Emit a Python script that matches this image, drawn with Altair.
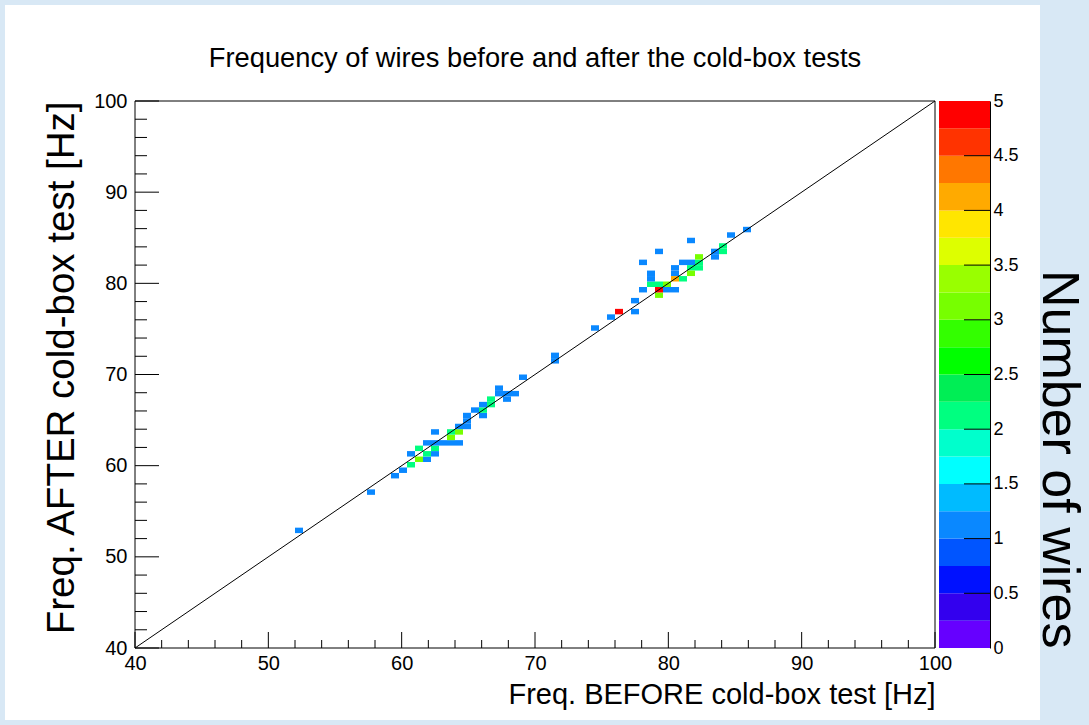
import altair as alt
import pandas as pd

# ---------------- data ----------------
# lower bin edge of each filled cell, in Hz (bin width 0.6 Hz in both axes)
freq_before = [52.0, 57.4, 59.2, 59.8, 60.4, 60.4, 61.0, 61.0, 61.6, 61.6,
               62.2, 62.2, 61.6, 62.2, 62.8, 63.4, 64.0, 62.2, 63.4, 63.4,
               64.0, 64.0, 64.6, 64.6, 64.6, 65.8, 65.2, 65.8, 65.8, 66.4,
               66.4, 67.6, 67.0, 67.6, 68.2, 67.0, 68.8, 71.2, 71.2, 74.2,
               75.4, 76.0, 77.2, 77.2, 77.8, 78.4, 79.0, 79.6, 79.0, 79.0,
               79.6, 80.2, 78.4, 78.4, 80.2, 80.8, 80.2, 80.2, 80.8, 81.4,
               81.4, 82.0, 81.4, 82.0, 82.0, 77.8, 79.0, 81.4, 83.2, 83.2,
               83.8, 83.8, 84.4, 85.6]
freq_after = [52.6, 56.8, 58.6, 59.2, 59.8, 61.0, 60.4, 61.6, 60.4, 61.0,
              61.0, 61.6, 62.2, 62.2, 62.2, 62.2, 62.2, 63.4, 62.8, 63.4,
              63.4, 64.0, 64.0, 64.6, 65.2, 65.2, 65.8, 65.8, 66.4, 66.4,
              67.0, 67.0, 67.6, 67.6, 67.6, 68.2, 69.4, 71.2, 71.8, 74.8,
              76.0, 76.6, 76.6, 77.8, 79.0, 79.6, 79.6, 79.6, 78.4, 79.0,
              79.0, 79.0, 80.2, 80.8, 80.2, 80.2, 80.8, 81.4, 82.0, 82.0,
              81.4, 81.4, 80.8, 82.0, 82.6, 82.0, 83.2, 84.4, 82.6, 83.2,
              83.2, 83.8, 85.0, 85.6]
n_wires = [1, 1, 1, 1, 2, 1, 3, 2, 1, 2,
           1, 2, 1, 1, 1, 1, 1, 1, 3, 2,
           3, 1, 1, 1, 1, 1, 1, 2, 1, 2,
           2, 1, 1, 1, 1, 1, 1, 1, 1, 1,
           1, 5, 1, 1, 1, 2, 2, 3, 3, 5,
           1, 1, 1, 1, 4, 2, 1, 1, 1, 1,
           2, 2, 3, 2, 3, 1, 1, 1, 1, 1,
           2, 2, 1, 1]
BIN_WIDTH = 0.6

# colour palette: 20 contour levels between 0 and 5
level_lo = [0.0, 0.25, 0.5, 0.75, 1.0, 1.25, 1.5, 1.75, 2.0, 2.25,
            2.5, 2.75, 3.0, 3.25, 3.5, 3.75, 4.0, 4.25, 4.5, 4.75]
level_colors = ["#6600ff", "#3300ee", "#0011ff", "#0055ff", "#0a88ff",
                "#00bbff", "#00ffff", "#00ffcc", "#00ff80", "#00ee55",
                "#00ff00", "#33ff00", "#77ff00", "#99ff00", "#ddff00",
                "#ffe600", "#ffaa00", "#ff7700", "#ff3300", "#ff0000"]
thresholds = level_lo[1:]

z_label_values = [0, 0.5, 1, 1.5, 2, 2.5, 3, 3.5, 4, 4.5, 5]
z_tick_values = [0.5, 1, 1.5, 2, 2.5, 3, 3.5, 4, 4.5]

major_ticks = [40, 50, 60, 70, 80, 90, 100]
minor_ticks = [42, 44, 46, 48, 52, 54, 56, 58, 62, 64, 66, 68, 72, 74, 76, 78,
               82, 84, 86, 88, 92, 94, 96, 98]

diag_x = [40, 100]
diag_y = [40, 100]

# ---------------- layout / style ----------------
W, H = 800, 547
FONT = "Liberation Sans"
MAJ_X, MIN_X = 16, 8
MAJ_Y, MIN_Y = 24, 12

cells = pd.DataFrame({"before": freq_before, "after": freq_after, "v": n_wires})
levels = pd.DataFrame({"lo": level_lo})
ticks_major_x = pd.DataFrame({"before": major_ticks})
ticks_minor_x = pd.DataFrame({"before": minor_ticks})
ticks_major_y = pd.DataFrame({"after": major_ticks})
ticks_minor_y = pd.DataFrame({"after": minor_ticks})
diag = pd.DataFrame({"before": diag_x, "after": diag_y})
zt = pd.DataFrame({"lo": z_tick_values})

xs = alt.Scale(domain=[40, 100], nice=False, zero=False)
ys = alt.Scale(domain=[40, 100], nice=False, zero=False)
zs = alt.Scale(domain=[0, 5], nice=False, zero=False)
cs = alt.Scale(type="threshold", domain=thresholds, range=level_colors)

x_axis = alt.Axis(
    values=major_ticks, ticks=False, domain=False, grid=False, zindex=1,
    labelFont=FONT, labelFontSize=20, labelColor="black", labelPadding=5,
    labelFlush=False,
    title="Freq. BEFORE cold-box test [Hz]", titleFont=FONT, titleFontSize=29,
    titleFontWeight="normal", titleColor="black", titleAnchor="end",
    titlePadding=7)
y_axis = alt.Axis(
    values=major_ticks, ticks=False, domain=False, grid=False, zindex=1,
    labelFont=FONT, labelFontSize=20, labelColor="black", labelPadding=8,
    labelFlush=False,
    title="Freq. AFTER cold-box test [Hz]", titleFont=FONT, titleFontSize=38.5,
    titleFontWeight="normal", titleColor="black", titleAnchor="end",
    titlePadding=12)
z_axis = alt.Axis(
    orient="right", offset=55, values=z_label_values, format="~g",
    ticks=False, domain=True, domainColor="black", grid=False, zindex=1,
    labelFont=FONT, labelFontSize=18, labelColor="black", labelPadding=3,
    labelFlush=False,
    title="Number of wires", titleFont=FONT, titleFontSize=52,
    titleFontWeight="normal", titleColor="black", titleAnchor="start",
    titleAlign="right", titlePadding=13)

panel = alt.Chart(pd.DataFrame({"k": [0]})).mark_rect(color="white").encode(
    x=alt.value(-130), x2=alt.value(905), y=alt.value(-96), y2=alt.value(619)
)

cell_layer = alt.Chart(cells).transform_calculate(
    before2=f"datum.before + {BIN_WIDTH}", after2=f"datum.after + {BIN_WIDTH}"
).mark_rect().encode(
    x=alt.X("before:Q", scale=xs, axis=x_axis),
    x2="before2:Q",
    y=alt.Y("after:Q", scale=ys, axis=y_axis),
    y2="after2:Q",
    color=alt.Color("v:Q", scale=cs, legend=None),
)

diag_layer = alt.Chart(diag).mark_line(color="black", strokeWidth=1).encode(
    x=alt.X("before:Q", scale=xs, axis=x_axis),
    y=alt.Y("after:Q", scale=ys, axis=y_axis))

xt_major = alt.Chart(ticks_major_x).mark_rule(color="black").encode(
    x=alt.X("before:Q", scale=xs, axis=x_axis), y=alt.value(H), y2=alt.value(H - MAJ_X))
xt_minor = alt.Chart(ticks_minor_x).mark_rule(color="black").encode(
    x=alt.X("before:Q", scale=xs, axis=x_axis), y=alt.value(H), y2=alt.value(H - MIN_X))
yt_major = alt.Chart(ticks_major_y).mark_rule(color="black").encode(
    y=alt.Y("after:Q", scale=ys, axis=y_axis), x=alt.value(0), x2=alt.value(MAJ_Y))
yt_minor = alt.Chart(ticks_minor_y).mark_rule(color="black").encode(
    y=alt.Y("after:Q", scale=ys, axis=y_axis), x=alt.value(0), x2=alt.value(MIN_Y))

frame = alt.Chart(pd.DataFrame({"k": [0]})).mark_rect(
    fill=None, stroke="black", strokeWidth=1).encode(
    x=alt.value(0), x2=alt.value(W), y=alt.value(0), y2=alt.value(H))

main = alt.layer(panel, cell_layer, diag_layer, xt_major, xt_minor,
                 yt_major, yt_minor, frame)

cbar = alt.Chart(levels).transform_calculate(
    hi="datum.lo + 0.25", v="datum.lo + 0.125"
).mark_rect().encode(
    y=alt.Y("lo:Q", scale=zs, axis=z_axis),
    y2="hi:Q",
    x=alt.value(804), x2=alt.value(855),
    color=alt.Color("v:Q", scale=cs, legend=None),
)
cbar_ticks = alt.Chart(zt).mark_rule(color="black").encode(
    y=alt.Y("lo:Q", scale=zs, axis=z_axis), x=alt.value(829), x2=alt.value(855))

colorbar = alt.layer(cbar, cbar_ticks)

chart = alt.layer(main, colorbar).resolve_scale(y="independent").properties(
    width=W, height=H,
    title=alt.TitleParams(
        "Frequency of wires before and after the cold-box tests",
        font=FONT, fontSize=27.3, fontWeight="normal", color="black",
        anchor="middle", frame="group", offset=-67, zindex=1),
    autosize=alt.AutoSizeParams(type="none"),
    padding={"left": 135, "top": 101, "right": 154, "bottom": 77},
).configure(background="#d8e8f5").configure_view(stroke=None)

chart.save("out.html", embed_options={"renderer": "svg", "actions": False})
